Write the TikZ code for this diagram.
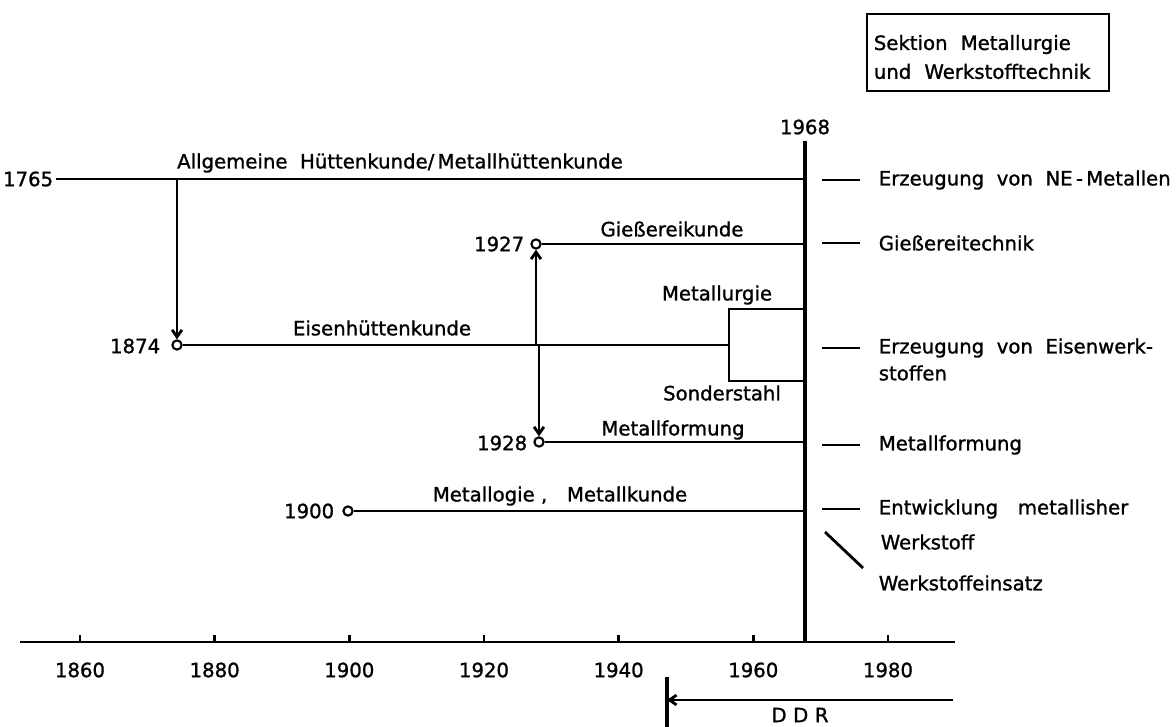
\documentclass[tikz,border=0pt]{standalone}
\usepackage{fontspec}
\setmainfont{DejaVu Sans}[FakeBold=1.2]
\usetikzlibrary{arrows.meta}

\begin{document}
\begin{tikzpicture}[x=0.025cm,y=-0.025cm,line width=2pt,
  lbl/.style={font=\fontsize{14}{20.5}\selectfont,inner sep=1pt},
  dot/.style={circle,draw,fill=white,inner sep=0pt,minimum size=0.23cm,line width=1.5pt},
  arr/.style={-{Straight Barb[length=5pt,width=7pt]}},
  strich/.style={line width=2pt}]
\useasboundingbox (0,0) rectangle (1176,727);

% Sektion
\node[lbl,draw,line width=1.5pt,anchor=north west,align=left,text width=5.7cm,inner sep=0.17cm,
      text height=17pt,minimum height=1.925cm] (sek) at (866,13)
      {Sektion\ \ Metallurgie\\und\ \ Werkstofftechnik};

% Zeitachse
\draw (20,642) -- (955,642);
\foreach \yr in {1860,1880,...,1980}{
  \pgfmathsetmacro{\xx}{80+(\yr-1860)*6.733}
  \draw (\xx,642) -- (\xx,635);
  \node[lbl] (t\yr) at (\xx,670) {\yr};
}

% 1968
\node[lbl] (y1968) at (805,127) {1968};
\coordinate (top) at (805,141);
\coordinate (bot) at (805,642);
\draw[line width=2.5pt] (top) -- (bot);

% 1765
\node[lbl,anchor=east] (y1765) at (56,179) {1765};
\draw (y1765.east) -- (top |- y1765);
\node[lbl] (allg) at (400,163) {Allgemeine\ \ Hüttenkunde/\,Metallhüttenkunde};

% 1874
\node[dot] (c1874) at (177,345) {};
\node[lbl,anchor=east] (y1874) at (163,346) {1874};
\coordinate (mb) at (729,345);
\draw (c1874) -- (mb);
\draw[arr] (c1874 |- y1765) -- (c1874);
\node[lbl] (eisen) at (382,328) {Eisenhüttenkunde};

% Metallurgie / Sonderstahl
\coordinate (mt) at (729,309);
\coordinate (mu) at (729,381);
\draw (top |- mt) -- (mt) -- (mu) -- (top |- mu);
\node[lbl] (metall) at (717,295) {Metallurgie};
\node[lbl] (sonder) at (722,393) {Sonderstahl};

% 1927
\node[dot] (c1927) at (536,244) {};
\node[lbl,anchor=east] (y1927) at (527,244) {1927};
\draw (c1927) -- (top |- c1927);
\draw[arr] (c1927 |- c1874) -- (c1927);
\node[lbl] (giess) at (672,229) {Gießereikunde};

% 1928
\node[dot] (c1928) at (539,442) {};
\node[lbl,anchor=east] (y1928) at (530,443) {1928};
\draw (c1928) -- (top |- c1928);
\draw[arr] (c1928 |- c1874) -- (c1928);
\node[lbl] (mform) at (673,430) {Metallformung};

% 1900
\node[dot] (c1900) at (348,511) {};
\node[lbl,anchor=east] (y1900) at (337,511) {1900};
\draw (c1900) -- (top |- c1900);
\node[lbl] (mlogie) at (560,496) {Metallogie\ ,\quad Metallkunde};

% rechts
\node[lbl,anchor=west] (ne) at (876,180) {Erzeugung\ \ von\ \ NE\,-\,Metallen};
\node[lbl,anchor=west] (gt) at (876,243) {Gießereitechnik};
\node[lbl,anchor=west] (ew) at (876,348) {Erzeugung\ \ von\ \ Eisenwerk-};
\node[lbl,anchor=west] (ew2) at (876,373) {stoffen};
\node[lbl,anchor=west] (mf) at (876,445) {Metallformung};
\node[lbl,anchor=west] (ent) at (876,509) {Entwicklung\quad metallisher};
\node[lbl,anchor=west] (ent2) at (878,542) {Werkstoff};
\node[lbl,anchor=west] (wein) at (876,583) {Werkstoffeinsatz};
\foreach \n in {ne,gt,ew,mf,ent}
  \draw[strich] ([xshift=-0.4cm]\n.west) -- ++(-0.95cm,0);
\coordinate (d1) at (825,532);
\draw[strich] (d1) -- ++(38,36);

% DDR
\coordinate (ddr0) at (667,677);
\coordinate (ddr1) at (953,700);
\draw[line width=2.5pt] (ddr0) -- ++(0,50);
\draw[arr] (ddr1) -- (ddr1 -| ddr0);
\node[lbl] (ddr) at (800,715) {D\,\,D\,\,R};
\end{tikzpicture}
\end{document}
